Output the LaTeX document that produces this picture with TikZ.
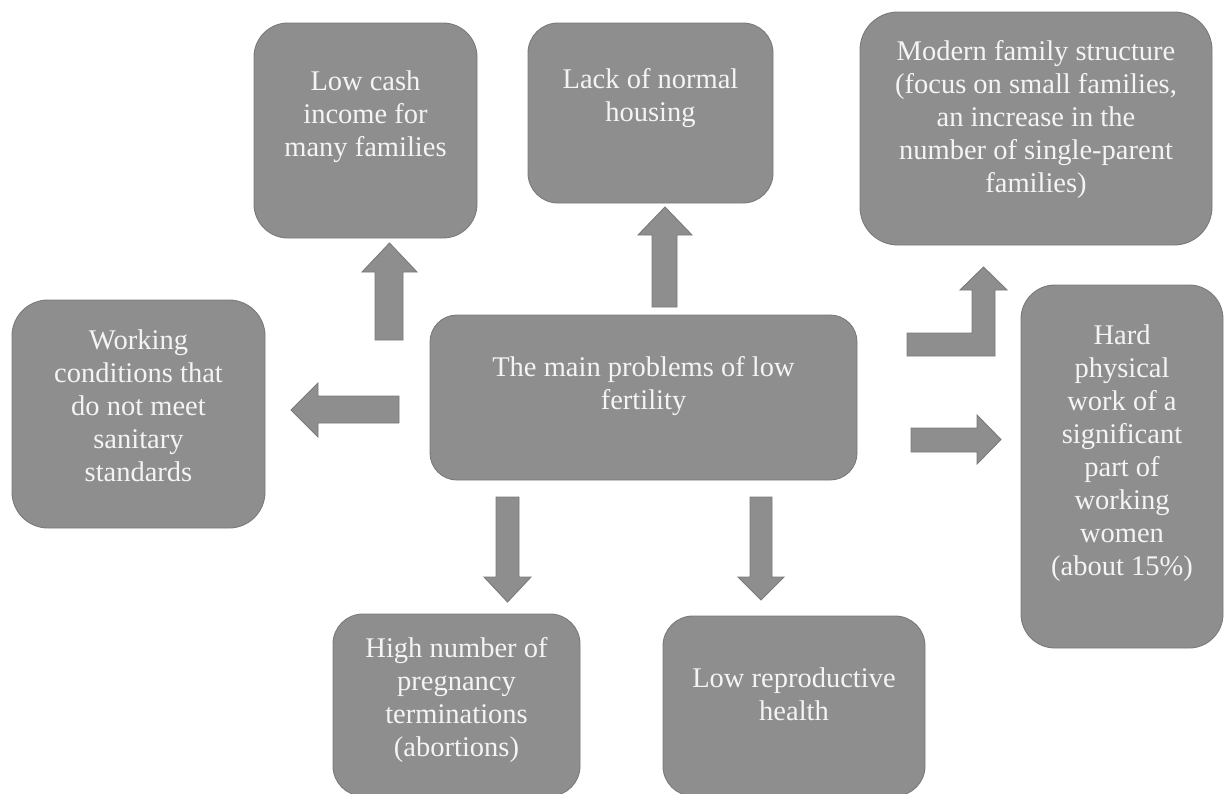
\documentclass[tikz,border=0pt]{standalone}
\usepackage{fontspec}
\setmainfont{Liberation Serif}
\definecolor{boxfill}{HTML}{8E8E8E}
\definecolor{boxline}{HTML}{7A7A7A}
\definecolor{txt}{HTML}{F4F4F4}
\begin{document}
\begin{tikzpicture}[x=1pt,y=-1pt,
  box/.style={draw=boxline, fill=boxfill, line width=0.9pt, inner sep=0pt, rectangle},
  lbl/.style={text=txt, align=center, font=\fontsize{28.5}{33}\selectfont, inner sep=0pt},
  barrow/.style={draw=boxline, fill=boxfill, line width=0.9pt, line join=miter}]
\clip (0,0) rectangle (1225,793);
\fill[white] (0,0) rectangle (1225,793);

% boxes
\node[box, rounded corners=34pt, minimum width=223pt, minimum height=215pt] (lowcash) at (365.5,130.5) {};
\node[box, rounded corners=30pt, minimum width=245pt, minimum height=180pt] (lack) at (650.5,113) {};
\node[box, rounded corners=38pt, minimum width=352pt, minimum height=233pt] (modern) at (1036,128.5) {};
\node[box, rounded corners=36pt, minimum width=253pt, minimum height=228pt] (working) at (138.5,414) {};
\node[box, rounded corners=27pt, minimum width=427pt, minimum height=165pt] (main) at (643.5,397.5) {};
\node[box, rounded corners=34pt, minimum width=202pt, minimum height=363pt] (hard) at (1122,466.5) {};
\node[box, rounded corners=30pt, minimum width=247pt, minimum height=182pt] (high) at (456.5,705) {};
\node[box, rounded corners=30pt, minimum width=262pt, minimum height=180pt] (lowrep) at (794,706) {};

% texts
\node[lbl] (lowcash-t) at (365.5,117) {Low cash\\income for\\many families};
\node[lbl] (lack-t) at (650.5,98) {Lack of normal\\housing};
\node[lbl] (modern-t) at (1036,119) {Modern family structure\\(focus on small families,\\an increase in the\\number of single-parent\\families)};
\node[lbl] (working-t) at (138.5,406) {Working\\conditions that\\do not meet\\sanitary\\standards};
\node[lbl] (main-t) at (643.5,386) {The main problems of low\\fertility};
\node[lbl] (hard-t) at (1122,453) {Hard\\physical\\work of a\\significant\\part of\\working\\women\\(about 15\%)};
\node[lbl] (high-t) at (456.5,700) {High number of\\pregnancy\\terminations\\(abortions)};
\node[lbl] (lowrep-t) at (794,694) {Low reproductive\\health};

% block arrows
\draw[barrow] (375,340) -- (375,272) -- (362,272) -- (389.5,243) -- (417,272) -- (403,272) -- (403,340) -- cycle;
\draw[barrow] (652,307) -- (652,235) -- (638,235) -- (665,207) -- (692,235) -- (677,235) -- (677,307) -- cycle;
\draw[barrow] (399,396) -- (318,396) -- (318,383) -- (291,410) -- (318,437) -- (318,423) -- (399,423) -- cycle;
\draw[barrow] (911,428) -- (977,428) -- (977,415) -- (1001,439.5) -- (977,464) -- (977,452) -- (911,452) -- cycle;
\draw[barrow] (907,333) -- (972,333) -- (972,290) -- (960,290) -- (983.5,267) -- (1007,290) -- (995,290) -- (995,356) -- (907,356) -- cycle;
\draw[barrow] (496,497) -- (519,497) -- (519,577) -- (531,577) -- (507.5,602) -- (484,577) -- (496,577) -- cycle;
\draw[barrow] (750,497) -- (772,497) -- (772,577) -- (784,577) -- (761,600) -- (738,577) -- (750,577) -- cycle;
\end{tikzpicture}
\end{document}
